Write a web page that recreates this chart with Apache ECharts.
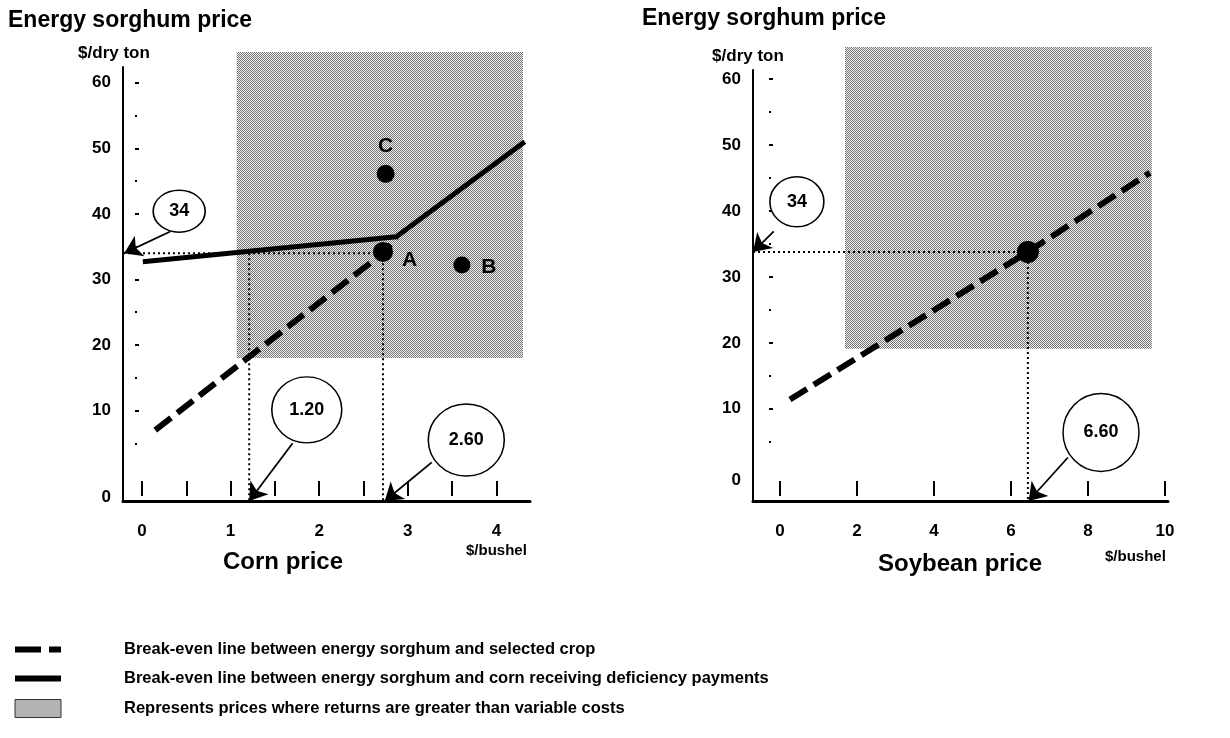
<!DOCTYPE html>
<html>
<head>
<meta charset="utf-8">
<title>Energy sorghum break-even prices</title>
<script src="https://cdn.jsdelivr.net/npm/echarts@6/dist/echarts.min.js"></script>
<style>
  html, body { margin: 0; padding: 0; background: #fff; }
  #chart { width: 1230px; height: 738px; }
</style>
</head>
<body>
<div id="chart"></div>
<script>
// ---- data ----
// corn panel: x = corn price ($/bushel), y = energy sorghum price ($/dry ton)
var cornSolid = [[0.01, 32.7], [2.87, 36.5], [4.32, 51.0]];
var cornDashed = [[0.15, 7.0], [1.21, 18.2], [2.72, 34.0], [2.87, 36.3]];
var cornPoints = [['C', 2.75, 46.1], ['A', 2.72, 34.2], ['B', 3.61, 32.2]];
var cornShade = [1.07, 4.30, 18.0, 64.7];   // x from, x to, y from, y to
var cornBreakX = [1.21, 2.72];                // dotted drops to the x axis
var cornBreakY = 34;

// soybean panel
var soyDashed = [[0.26, 11.4], [6.44, 33.8], [9.61, 45.8]];
var soyPoint = [6.44, 33.8];
var soyShade = [1.69, 9.66, 19.1, 64.9];

// tick labels
var cornXLabels = [0, 1, 2, 3, 4];
var cornXTicks = [0, 0.5, 1, 1.5, 2, 2.5, 3, 3.5, 4];
var soyXLabels = [0, 2, 4, 6, 8, 10];
var soyXTicks = [0, 2, 4, 6, 8, 10];
var yLabels = ['0', '10', '20', '30', '40', '50', '60'];
var yMajor = [10, 20, 30, 40, 50, 60];
var yMinor = [5, 15, 25, 35, 45, 55];

var DASH = 'Break-even line between energy sorghum and selected crop';
var SOLID = 'Break-even line between energy sorghum and corn receiving deficiency payments';
var SHADE = 'Represents prices where returns are greater than variable costs';

// ---- layout ----
var cornX = [-0.214, 4.379], cornY = [-3.8, 62.4];
var soyX = [-0.70, 10.08], soyY = [-4.0, 61.4];
// where the "0" of each y axis is written (the left one sits on the x axis line)
var cornYLabelPos = [-3.2, 10, 20, 30, 40, 50, 60];
var soyYLabelPos = [-0.8, 10, 20, 30, 40, 50, 60];

// callout bubbles: text, x, y, width, height
var cornNotes = [['34', 0.42, 40.4, 52, 42], ['1.20', 1.86, 10.1, 70, 66], ['2.60', 3.66, 5.5, 76, 72]];
var soyNotes = [['34', 0.44, 41.4, 54, 50], ['6.60', 8.34, 6.4, 76, 78]];
var cornArrows = [[[0.32, 37.3], [-0.2, 34.0]], [[1.70, 5.0], [1.21, -3.8]], [[3.27, 2.1], [2.74, -3.8]]];
var soyArrows = [[[-0.16, 36.9], [-0.70, 33.8]], [[7.48, 2.6], [6.46, -4.0]]];

var FONT = 'Liberation Sans';

function makePattern() {
    var c = document.createElement('canvas');
    c.width = 2; c.height = 2;
    var ctx = c.getContext('2d');
    ctx.fillStyle = '#f2f2f2'; ctx.fillRect(0, 0, 2, 2);
    ctx.fillStyle = '#747474'; ctx.fillRect(0, 0, 1, 1); ctx.fillRect(1, 1, 1, 1);
    return c;
}
var pattern = { image: makePattern(), repeat: 'repeat' };

var labelFont = { fontFamily: FONT, fontSize: 17, fontWeight: 'bold', color: '#000' };

function xAxes(g, range, labels, ticks) {
    return [{
        type: 'value', gridIndex: g, min: range[0], max: range[1], position: 'bottom',
        axisLine: { onZero: false, lineStyle: { color: '#000', width: 3 } },
        axisTick: { show: false }, splitLine: { show: false },
        axisLabel: Object.assign({ customValues: labels, margin: 22 }, labelFont)
    }, {
        // the short vertical ticks stand a little above the axis line
        type: 'value', gridIndex: g, min: range[0], max: range[1], position: 'bottom', offset: -5,
        axisLine: { show: false, onZero: false }, axisLabel: { show: false }, splitLine: { show: false },
        axisTick: { inside: true, length: 15, customValues: ticks, lineStyle: { color: '#000', width: 2 } }
    }];
}

function yAxes(g, range, labelPos, tickOffset, namePad) {
    return [{
        type: 'value', gridIndex: g, min: range[0], max: range[1], position: 'left',
        name: '$/dry ton', nameLocation: 'end', nameGap: 5,
        nameTextStyle: { fontFamily: FONT, fontSize: 17, fontWeight: 'bold', color: '#000', padding: namePad },
        axisLine: { onZero: false, lineStyle: { color: '#000', width: 2 } },
        axisTick: { show: false }, splitLine: { show: false },
        axisLabel: Object.assign({
            customValues: labelPos, margin: 12, padding: [8, 0, 0, 0],
            formatter: function (v) {
                for (var i = 0; i < labelPos.length; i++) {
                    if (Math.abs(labelPos[i] - v) < 1e-6) return yLabels[i];
                }
                return '';
            }
        }, labelFont)
    }, {
        type: 'value', gridIndex: g, min: range[0], max: range[1], position: 'left', offset: tickOffset,
        axisLine: { show: false, onZero: false }, axisLabel: { show: false }, splitLine: { show: false },
        axisTick: { inside: true, length: 4, customValues: yMajor, lineStyle: { color: '#000', width: 2 } }
    }, {
        type: 'value', gridIndex: g, min: range[0], max: range[1], position: 'left', offset: tickOffset,
        axisLine: { show: false, onZero: false }, axisLabel: { show: false }, splitLine: { show: false },
        axisTick: { inside: true, length: 2, customValues: yMinor, lineStyle: { color: '#000', width: 2 } }
    }];
}

function shadeSeries(xi, yi, rect) {
    return {
        type: 'custom', name: SHADE, xAxisIndex: xi, yAxisIndex: yi, z: 1, silent: true,
        itemStyle: { color: pattern },
        encode: { x: [0, 1], y: [2, 3] },
        data: [rect],
        renderItem: function (params, api) {
            var a = api.coord([api.value(0), api.value(3)]);
            var b = api.coord([api.value(1), api.value(2)]);
            return { type: 'rect', shape: { x: a[0], y: a[1], width: b[0] - a[0], height: b[1] - a[1] }, style: { fill: pattern } };
        }
    };
}

function dashedSeries(xi, yi, pts) {
    return {
        type: 'line', name: DASH, color: '#000', xAxisIndex: xi, yAxisIndex: yi, data: pts, symbol: 'none', z: 3, clip: false,
        lineStyle: { color: '#000', width: 6, type: [20, 8], cap: 'butt' }
    };
}

function dotted(xi, yi, pts) {
    return {
        type: 'line', xAxisIndex: xi, yAxisIndex: yi, data: pts, symbol: 'none', z: 2, silent: true,
        lineStyle: { color: '#000', width: 2, type: [2, 3] }
    };
}

function notesSeries(xi, yi, notes) {
    return {
        type: 'scatter', xAxisIndex: xi, yAxisIndex: yi, symbol: 'circle', z: 6, silent: true, clip: false,
        itemStyle: { color: '#fff', borderColor: '#000', borderWidth: 1.5, opacity: 1 },
        label: { show: true, position: 'inside', formatter: '{b}', fontFamily: FONT, fontSize: 18, fontWeight: 'bold', color: '#000' },
        data: notes.map(function (n) { return { name: n[0], value: [n[1], n[2]], symbolSize: [n[3], n[4]] }; })
    };
}

function arrowSeries(xi, yi, arrows) {
    return {
        type: 'lines', coordinateSystem: 'cartesian2d', xAxisIndex: xi, yAxisIndex: yi, z: 5, clip: false, silent: true,
        symbol: ['none', 'arrow'], symbolSize: 17,
        lineStyle: { color: '#000', width: 1.8, opacity: 1, curveness: 0 },
        data: arrows.map(function (a) { return { coords: a }; })
    };
}

var A = cornPoints[1];
var pointLabels = {
    C: { position: 'top', distance: 8 },
    A: { position: 'right', distance: 9, offset: [0, 8] },
    B: { position: 'right', distance: 11, offset: [0, 2] }
};
var pointSizes = { C: 18, A: 20, B: 17 };

var chart = echarts.init(document.getElementById('chart'));

chart.setOption({
    animation: false,
    backgroundColor: '#fff',
    textStyle: { fontFamily: FONT },
    title: [
        { text: 'Energy sorghum price', left: 8, top: 9, padding: 0, textStyle: { fontFamily: FONT, fontSize: 23, fontWeight: 'bold', color: '#000' } },
        { text: 'Energy sorghum price', left: 642, top: 7, padding: 0, textStyle: { fontFamily: FONT, fontSize: 23, fontWeight: 'bold', color: '#000' } },
        { text: 'Corn price', left: 283, top: 550, padding: 0, textAlign: 'center', textStyle: { fontFamily: FONT, fontSize: 24, fontWeight: 'bold', color: '#000' } },
        { text: 'Soybean price', left: 960, top: 552, padding: 0, textAlign: 'center', textStyle: { fontFamily: FONT, fontSize: 24, fontWeight: 'bold', color: '#000' } },
        { text: '$/bushel', left: 466, top: 543, padding: 0, textStyle: { fontFamily: FONT, fontSize: 15, fontWeight: 'bold', color: '#000' } },
        { text: '$/bushel', left: 1105, top: 549, padding: 0, textStyle: { fontFamily: FONT, fontSize: 15, fontWeight: 'bold', color: '#000' } }
    ],
    legend: {
        orient: 'vertical', left: 7, top: 636, itemWidth: 46, itemHeight: 18, itemGap: 12,
        selectedMode: false,
        data: [
            { name: DASH, itemStyle: { opacity: 0 }, lineStyle: { color: '#000', width: 6, type: [26, 8], cap: 'butt' } },
            { name: SOLID, itemStyle: { opacity: 0 }, lineStyle: { color: '#000', width: 6 } },
            { name: SHADE, icon: 'rect', itemStyle: { color: pattern, borderColor: '#333', borderWidth: 1 } }
        ],
        textStyle: { fontFamily: FONT, fontSize: 16.5, fontWeight: 'bold', color: '#000', padding: [0, 0, 0, 58] }
    },
    grid: [
        { left: 123, top: 67, width: 407, height: 434 },
        { left: 753, top: 70, width: 415, height: 431 }
    ],
    xAxis: xAxes(0, cornX, cornXLabels, cornXTicks).concat(xAxes(1, soyX, soyXLabels, soyXTicks)),
    yAxis: yAxes(0, cornY, cornYLabelPos, -12, [0, 18, 0, 0]).concat(yAxes(1, soyY, soyYLabelPos, -16, [0, 10, 0, 0])),
    series: [
        // corn panel
        shadeSeries(0, 0, cornShade),
        dotted(0, 0, [[cornX[0], cornBreakY], [A[1], cornBreakY]]),
        dotted(0, 0, [[cornBreakX[0], cornBreakY], [cornBreakX[0], cornY[0]]]),
        dotted(0, 0, [[cornBreakX[1], cornBreakY], [cornBreakX[1], cornY[0]]]),
        dashedSeries(0, 0, cornDashed),
        {
            type: 'line', name: SOLID, color: '#000', xAxisIndex: 0, yAxisIndex: 0, data: cornSolid, symbol: 'none', z: 3, clip: false,
            lineStyle: { color: '#000', width: 5 }
        },
        {
            type: 'scatter', xAxisIndex: 0, yAxisIndex: 0, z: 4, silent: true,
            itemStyle: { color: '#000', opacity: 1 },
            data: cornPoints.map(function (p) {
                return {
                    name: p[0], value: [p[1], p[2]], symbolSize: pointSizes[p[0]],
                    label: Object.assign({ show: true, formatter: '{b}', fontFamily: FONT, fontSize: 21, fontWeight: 'bold', color: '#000' }, pointLabels[p[0]])
                };
            })
        },
        arrowSeries(0, 0, cornArrows),
        notesSeries(0, 0, cornNotes),

        // soybean panel
        shadeSeries(2, 3, soyShade),
        dotted(2, 3, [[soyX[0], soyPoint[1]], [soyPoint[0], soyPoint[1]]]),
        dotted(2, 3, [[soyPoint[0], soyPoint[1]], [soyPoint[0], soyY[0]]]),
        dashedSeries(2, 3, soyDashed),
        {
            type: 'scatter', xAxisIndex: 2, yAxisIndex: 3, z: 4, silent: true, symbolSize: 22,
            itemStyle: { color: '#000', opacity: 1 },
            data: [soyPoint]
        },
        arrowSeries(2, 3, soyArrows),
        notesSeries(2, 3, soyNotes)
    ]
});
</script>
</body>
</html>
